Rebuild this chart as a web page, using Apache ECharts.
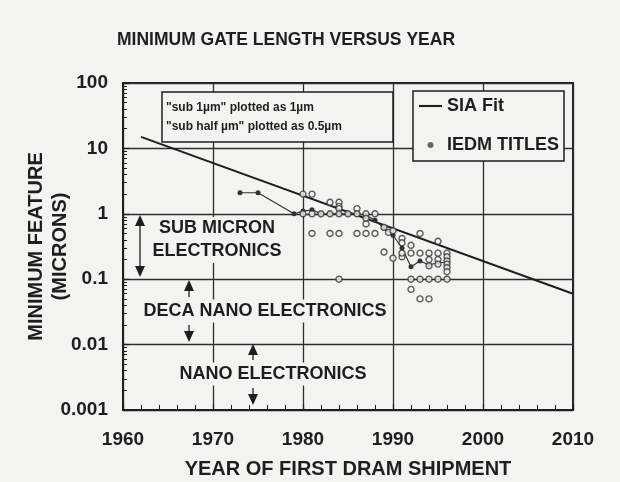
<!DOCTYPE html>
<html>
<head>
<meta charset="utf-8">
<script src="https://cdn.jsdelivr.net/npm/echarts@6/dist/echarts.min.js"></script>
<style>
html, body { margin: 0; padding: 0; background: #f3f3f1; }
#chart { width: 620px; height: 482px; }
</style>
</head>
<body>
<div id="chart"></div>
<script>
// SIA fit (straight line on log scale)
var siaFit = [[1962, 15], [2010, 0.06]];

// thin connected line through the titles
var trendLine = [
    [1973, 2.1], [1975, 2.1], [1979, 1], [1980, 1.1], [1981, 1.15], [1982, 1],
    [1983, 1], [1984, 1], [1985, 1], [1986, 1], [1987, 0.95], [1988, 0.8],
    [1989, 0.6], [1990, 0.47], [1991, 0.3], [1992, 0.155], [1993, 0.19],
    [1994, 0.165], [1995, 0.18], [1996, 0.18]
];

// IEDM titles
var iedmTitles = [
    [1980, 2], [1981, 2],
    [1983, 1.5], [1984, 1.5], [1984, 1.3], [1984, 1.2], [1986, 1.2],
    [1980, 1], [1981, 1], [1982, 1], [1983, 1], [1984, 1], [1985, 1], [1986, 1], [1987, 1], [1988, 1],
    [1987, 0.85], [1987, 0.7],
    [1981, 0.5], [1983, 0.5], [1984, 0.5], [1986, 0.5], [1987, 0.5], [1988, 0.5],
    [1989, 0.62], [1989.5, 0.52], [1990, 0.55],
    [1991, 0.42], [1991, 0.36], [1992, 0.33], [1993, 0.5], [1995, 0.38],
    [1989, 0.26], [1990, 0.21], [1991, 0.22],
    [1991, 0.25], [1992, 0.25], [1993, 0.25], [1994, 0.25], [1995, 0.25], [1996, 0.25],
    [1994, 0.2], [1995, 0.2], [1995, 0.17], [1994, 0.16],
    [1996, 0.22], [1996, 0.19], [1996, 0.17], [1996, 0.15], [1996, 0.13],
    [1984, 0.1], [1992, 0.1], [1993, 0.1], [1994, 0.1], [1995, 0.1], [1996, 0.1],
    [1992, 0.07], [1993, 0.05], [1994, 0.05]
];

var yTickLabels = ['0.001', '0.01', '0.1', '1', '10', '100'];

var bg = '#f3f3f1';
var ink = '#1e1e1e';
var ff = '"Liberation Sans", Arial, sans-serif';

// vertical arrow: tip y, tail y
function arrow(x, tip, tail) {
    var dir = tip < tail ? 1 : -1;
    var h = 11, w = 5;
    return [
        {type: 'line', z: 100, shape: {x1: x, y1: tip + dir * h, x2: x, y2: tail},
            style: {stroke: ink, lineWidth: 1.3}},
        {type: 'polygon', z: 100, shape: {points: [[x, tip], [x - w, tip + dir * h], [x + w, tip + dir * h]]},
            style: {fill: ink}}
    ];
}

function label(x, y, text) {
    return {
        type: 'text', z: 100, x: x, y: y,
        style: {
            text: text, font: 'bold 18px ' + ff, fill: ink,
            align: 'center', verticalAlign: 'middle', lineHeight: 23,
            backgroundColor: bg, padding: [0, 2]
        }
    };
}

var graphics = [
    // note box
    {type: 'rect', z: 100, shape: {x: 162, y: 92, width: 231, height: 50},
        style: {fill: bg, stroke: ink, lineWidth: 1.5}},
    {type: 'text', z: 101, x: 166, y: 108,
        style: {text: '"sub 1\u00b5m" plotted as 1\u00b5m', font: 'bold 12px ' + ff, fill: ink, verticalAlign: 'middle'}},
    {type: 'text', z: 101, x: 166, y: 127,
        style: {text: '"sub half \u00b5m" plotted as 0.5\u00b5m', font: 'bold 12px ' + ff, fill: ink, verticalAlign: 'middle'}},
    label(217, 240, 'SUB MICRON\nELECTRONICS'),
    label(265, 311, 'DECA NANO ELECTRONICS'),
    label(273, 374, 'NANO ELECTRONICS')
].concat(
    arrow(140, 215, 246), arrow(140, 277, 246),
    arrow(189, 280, 297), arrow(189, 342, 325),
    arrow(253, 344, 360), arrow(253, 405, 388)
);

var chart = echarts.init(document.getElementById('chart'));
var option = {
    backgroundColor: bg,
    animation: false,
    title: {
        text: 'MINIMUM GATE LENGTH VERSUS YEAR',
        left: 117, top: 31, padding: 0,
        textStyle: {fontFamily: ff, fontSize: 17.5, fontWeight: 'bold', color: ink}
    },
    legend: {
        data: [
            {name: 'SIA Fit', icon: 'path://M0,0L24,0L24,2.2L0,2.2Z', itemStyle: {color: ink}},
            {name: 'IEDM TITLES', icon: 'circle', itemStyle: {color: '#444', borderWidth: 0}}
        ],
        orient: 'vertical',
        left: 413, top: 91,
        itemWidth: 23, itemHeight: 6, itemGap: 21,
        padding: [6, 5, 7, 6],
        backgroundColor: bg,
        borderColor: ink, borderWidth: 1.5,
        textStyle: {fontFamily: ff, fontSize: 18, fontWeight: 'bold', color: ink}
    },
    grid: {
        left: 123, right: 47, top: 83, bottom: 72,
        outerBoundsMode: 'none',
        show: true, borderColor: ink, borderWidth: 2
    },
    xAxis: {
        type: 'value',
        min: 1960, max: 2010, interval: 10,
        name: 'YEAR OF FIRST DRAM SHIPMENT',
        nameLocation: 'middle', nameGap: 49, nameMoveOverlap: false,
        nameTextStyle: {fontFamily: ff, fontSize: 20, fontWeight: 'bold', color: ink},
        axisLine: {lineStyle: {color: ink, width: 2}},
        axisTick: {inside: true, length: 6, lineStyle: {color: ink, width: 1.2}},
        minorTick: {show: true, splitNumber: 5, length: 5, lineStyle: {color: ink, width: 1}},
        splitLine: {show: true, lineStyle: {color: '#2e2e2e', width: 1.3}},
        axisLabel: {
            margin: 20, fontFamily: ff, fontSize: 19, fontWeight: 'bold', color: ink,
            formatter: function (v) { return String(v); }
        }
    },
    yAxis: {
        type: 'log', logBase: 10,
        min: 0.001, max: 100,
        name: 'MINIMUM FEATURE\n(MICRONS)',
        nameLocation: 'middle', nameGap: 51, nameRotate: 90, nameMoveOverlap: false,
        nameTextStyle: {fontFamily: ff, fontSize: 20, fontWeight: 'bold', color: ink, lineHeight: 24},
        axisLine: {show: true, lineStyle: {color: ink, width: 2}},
        axisTick: {inside: true, length: 6, lineStyle: {color: ink, width: 1.2}},
        minorTick: {show: true, splitNumber: 9, length: 4, lineStyle: {color: ink, width: 1}},
        splitLine: {show: true, lineStyle: {color: '#2e2e2e', width: 1.3}},
        axisLabel: {
            margin: 15, fontFamily: ff, fontSize: 19, fontWeight: 'bold', color: ink,
            formatter: function (v) { return yTickLabels[Math.round(Math.log10(v)) + 3]; }
        }
    },
    graphic: graphics,
    series: [
        {
            name: 'SIA Fit',
            type: 'line',
            data: siaFit,
            symbol: 'none',
            lineStyle: {color: ink, width: 2},
            itemStyle: {color: ink},
            z: 3
        },
        {
            name: 'trend',
            type: 'line',
            data: trendLine,
            symbol: 'circle', symbolSize: 5,
            lineStyle: {color: '#333', width: 1.2},
            itemStyle: {color: '#333'},
            z: 4
        },
        {
            name: 'IEDM TITLES',
            type: 'scatter',
            data: iedmTitles,
            symbol: 'circle', symbolSize: 6,
            itemStyle: {color: bg, borderColor: '#333', borderWidth: 1.4},
            z: 5
        }
    ]
};
chart.setOption(option);
</script>
</body>
</html>
